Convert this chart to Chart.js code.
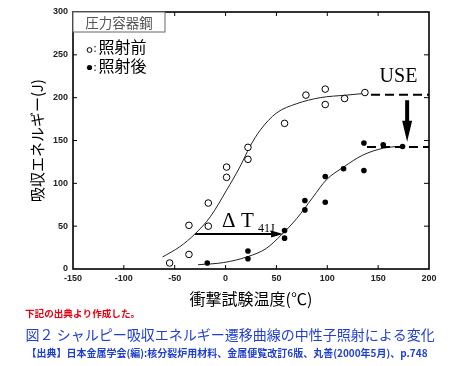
<!DOCTYPE html>
<html>
<head>
<meta charset="utf-8">
<script src="https://cdn.jsdelivr.net/npm/chart.js@4.4.1/dist/chart.umd.min.js"></script>
<style>
  html, body { margin: 0; padding: 0; background: #fff; }
  #wrap { width: 474px; height: 366px; }
</style>
</head>
<body>
<div id="wrap"><canvas id="chart" width="474" height="366"></canvas></div>
<script>
// 照射前（白丸）
const beforeTemp   = [-55, -36, -36, -17, -17, 1, 1, 22, 22, 58, 79, 98, 98, 117, 137];
const beforeEnergy = [7, 17, 51, 50, 77, 107, 119, 128, 142, 170, 203, 210, 192, 199, 206];

// 照射後（黒丸）
const afterTemp   = [-18, 22, 22, 58, 58, 78, 78, 98, 98, 116, 136, 136, 155, 174];
const afterEnergy = [7, 21, 12, 45, 36, 80, 69, 108, 78, 117, 115, 147, 145, 143];

// 遷移曲線
const beforeCurveTemp   = [-62, -45, -30, -15, 1, 14, 24, 34, 50, 70, 93, 119, 137];
const beforeCurveEnergy = [14, 26, 41, 61, 92, 119, 143, 162, 182, 193, 200, 203, 205];
const afterCurveTemp    = [-27, -2, 22, 40, 55, 70, 86, 99, 116, 135, 155, 168];
const afterCurveEnergy  = [5, 7.5, 14.5, 24, 40, 59, 84, 104, 119, 133, 141, 143];

// USE（上部棚）と ΔT41J
const useBeforeTemp = [143, 200];
const useBeforeEnergy = 203.5;
const useAfterTemp = [139, 200];
const useAfterEnergy = 142.5;
const useArrowTemp = 178.5;
const useArrowEnergy = [197, 148.5];
const shiftTemp = [-30, 56.5];
const shiftEnergy = 41;

// 目盛り
const xTicks = [-150, -100, -50, 0, 50, 100, 150, 200];
const yTicks = [0, 50, 100, 150, 200, 250, 300];

const JP = "'Noto Sans CJK JP', 'Noto Sans', sans-serif";
const SERIF = "'Liberation Serif', 'DejaVu Serif', serif";

const toPoints = (xs, ys) => xs.map((v, i) => ({ x: v, y: ys[i] }));
const flatLine = (xs, v) => xs.map(t => ({ x: t, y: v }));

// 枠・内向き目盛り・矢印・注記
const paperDecor = {
  id: 'paperDecor',
  afterDatasetsDraw(chart) {
    const { ctx, chartArea: a, scales: { x, y } } = chart;
    const line = (x1, y1, x2, y2) => {
      ctx.beginPath(); ctx.moveTo(x1, y1); ctx.lineTo(x2, y2); ctx.stroke();
    };
    ctx.save();
    ctx.strokeStyle = '#000';

    // 内向きの目盛り
    ctx.lineWidth = 1;
    xTicks.slice(1, -1).forEach(v => {
      const px = x.getPixelForValue(v);
      line(px, a.bottom, px, a.bottom - 4);
      line(px, a.top, px, a.top + 4);
    });
    yTicks.slice(1, -1).forEach(v => {
      const py = y.getPixelForValue(v);
      line(a.left, py, a.left + 4, py);
      line(a.right, py, a.right - 5, py);
    });

    // 枠
    ctx.lineWidth = 1.6;
    ctx.strokeRect(a.left, a.top, a.right - a.left, a.bottom - a.top);

    // ΔT41J の矢印
    const sy = y.getPixelForValue(shiftEnergy);
    const sx0 = x.getPixelForValue(shiftTemp[0]);
    const sx1 = x.getPixelForValue(shiftTemp[1]);
    ctx.lineWidth = 2;
    line(sx0, sy, sx1 - 9, sy);
    ctx.fillStyle = '#000';
    ctx.beginPath();
    ctx.moveTo(sx1, sy);
    ctx.lineTo(sx1 - 12, sy - 3.5);
    ctx.lineTo(sx1 - 12, sy + 3.5);
    ctx.closePath();
    ctx.fill();

    // USE の矢印
    const ux = x.getPixelForValue(useArrowTemp);
    const uy0 = y.getPixelForValue(useArrowEnergy[0]);
    const uy1 = y.getPixelForValue(useArrowEnergy[1]);
    ctx.lineWidth = 4;
    line(ux, uy0, ux, uy1 - 18);
    ctx.beginPath();
    ctx.moveTo(ux, uy1);
    ctx.lineTo(ux - 5, uy1 - 21);
    ctx.lineTo(ux + 5, uy1 - 21);
    ctx.closePath();
    ctx.fill();

    // USE
    ctx.font = '20px ' + SERIF;
    ctx.textAlign = 'center';
    ctx.textBaseline = 'alphabetic';
    ctx.fillText('USE', x.getPixelForValue(170), y.getPixelForValue(218.5));

    // ΔT41J
    const dx = x.getPixelForValue(-3.5);
    const dy = y.getPixelForValue(49);
    ctx.textAlign = 'left';
    ctx.font = '21px ' + SERIF;
    ctx.fillText('Δ', dx, dy);
    ctx.fillText('T', dx + 19, dy);
    ctx.font = '12px ' + SERIF;
    ctx.fillText('41J', dx + 36, dy + 5);

    // 凡例ボックス
    ctx.fillStyle = '#fff';
    ctx.fillRect(a.left, a.top, 92, 20);
    ctx.strokeStyle = '#666';
    ctx.lineWidth = 1;
    ctx.strokeRect(a.left, a.top, 92, 20);
    ctx.fillStyle = '#555';
    ctx.font = '13.5px ' + JP;
    ctx.textAlign = 'center';
    ctx.textBaseline = 'middle';
    ctx.fillText('圧力容器鋼', a.left + 46, a.top + 11);

    // 凡例
    ctx.fillStyle = '#000';
    ctx.strokeStyle = '#000';
    ctx.beginPath();
    ctx.arc(a.left + 16.5, a.top + 38, 2.4, 0, Math.PI * 2);
    ctx.stroke();
    ctx.beginPath();
    ctx.arc(a.left + 16.5, a.top + 55.5, 2.6, 0, Math.PI * 2);
    ctx.fill();
    ctx.textAlign = 'left';
    ctx.font = '11px ' + JP;
    ctx.fillText(':', a.left + 20.5, a.top + 36);
    ctx.fillText(':', a.left + 20.5, a.top + 55);
    ctx.font = '16px ' + JP;
    ctx.fillText('照射前', a.left + 25.5, a.top + 35);
    ctx.fillText('照射後', a.left + 25.5, a.top + 54);
    ctx.restore();
  },
  afterDraw(chart) {
    const { ctx } = chart;
    ctx.save();
    ctx.textAlign = 'left';
    ctx.textBaseline = 'middle';
    ctx.fillStyle = '#e60012';
    ctx.font = 'bold 9.6px ' + JP;
    ctx.fillText('下記の出典より作成した。', 25, 313);
    ctx.fillStyle = '#1f3fcf';
    ctx.font = '14px ' + JP;
    ctx.fillText('図２ シャルピー吸収エネルギー遷移曲線の中性子照射による変化', 25.5, 335, 416);
    ctx.font = 'bold 10px ' + JP;
    ctx.fillText('【出典】日本金属学会(編):核分裂炉用材料、金属便覧改訂6版、丸善(2000年5月)、p.748', 26.5, 353, 407);
    ctx.restore();
  }
};

new Chart(document.getElementById('chart'), {
  type: 'scatter',
  data: {
    datasets: [
      {
        label: '照射前',
        data: toPoints(beforeTemp, beforeEnergy),
        pointStyle: 'circle',
        pointRadius: 3.3,
        pointBorderWidth: 1,
        pointBackgroundColor: '#fff',
        pointBorderColor: '#000'
      },
      {
        label: '照射後',
        data: toPoints(afterTemp, afterEnergy),
        pointRadius: 2.8,
        pointBorderWidth: 0,
        pointBackgroundColor: '#000',
        pointBorderColor: '#000'
      },
      {
        label: 'USE照射前',
        data: flatLine(useBeforeTemp, useBeforeEnergy),
        showLine: true,
        pointRadius: 0,
        borderColor: '#000',
        borderWidth: 2,
        borderDash: [9, 5]
      },
      {
        label: 'USE照射後',
        data: flatLine(useAfterTemp, useAfterEnergy),
        showLine: true,
        pointRadius: 0,
        borderColor: '#000',
        borderWidth: 2,
        borderDash: [9, 5]
      },
      {
        label: '照射前曲線',
        data: toPoints(beforeCurveTemp, beforeCurveEnergy),
        showLine: true,
        pointRadius: 0,
        borderColor: '#222',
        borderWidth: 1,
        cubicInterpolationMode: 'monotone'
      },
      {
        label: '照射後曲線',
        data: toPoints(afterCurveTemp, afterCurveEnergy),
        showLine: true,
        pointRadius: 0,
        borderColor: '#222',
        borderWidth: 1,
        cubicInterpolationMode: 'monotone'
      }
    ]
  },
  options: {
    responsive: false,
    animation: false,
    devicePixelRatio: 1,
    layout: { padding: { left: 28, top: 12, right: 45, bottom: 57 } },
    plugins: {
      legend: { display: false },
      tooltip: { enabled: false }
    },
    scales: {
      x: {
        type: 'linear',
        min: -150,
        max: 200,
        afterBuildTicks: s => { s.ticks = xTicks.map(v => ({ value: v })); },
        afterFit: s => { s.height = 40; },
        grid: { display: false, drawTicks: false },
        border: { display: false },
        ticks: {
          padding: 4,
          color: '#222',
          font: { family: "'Liberation Sans', Arial, sans-serif", size: 9, weight: 'bold' }
        },
        title: {
          display: true,
          text: '衝撃試験温度(℃)',
          color: '#000',
          padding: 0,
          font: { family: JP, size: 16 }
        }
      },
      y: {
        type: 'linear',
        min: 0,
        max: 300,
        afterBuildTicks: s => { s.ticks = yTicks.map(v => ({ value: v })); },
        afterFit: s => { s.width = 45; },
        grid: { display: false, drawTicks: false },
        border: { display: false },
        ticks: {
          padding: 5,
          color: '#222',
          font: { family: "'Liberation Sans', Arial, sans-serif", size: 9, weight: 'bold' }
        },
        title: {
          display: true,
          text: '吸収エネルギー(J)',
          color: '#000',
          padding: 0,
          font: { family: JP, size: 15 }
        }
      }
    }
  },
  plugins: [paperDecor]
});
</script>
</body>
</html>
